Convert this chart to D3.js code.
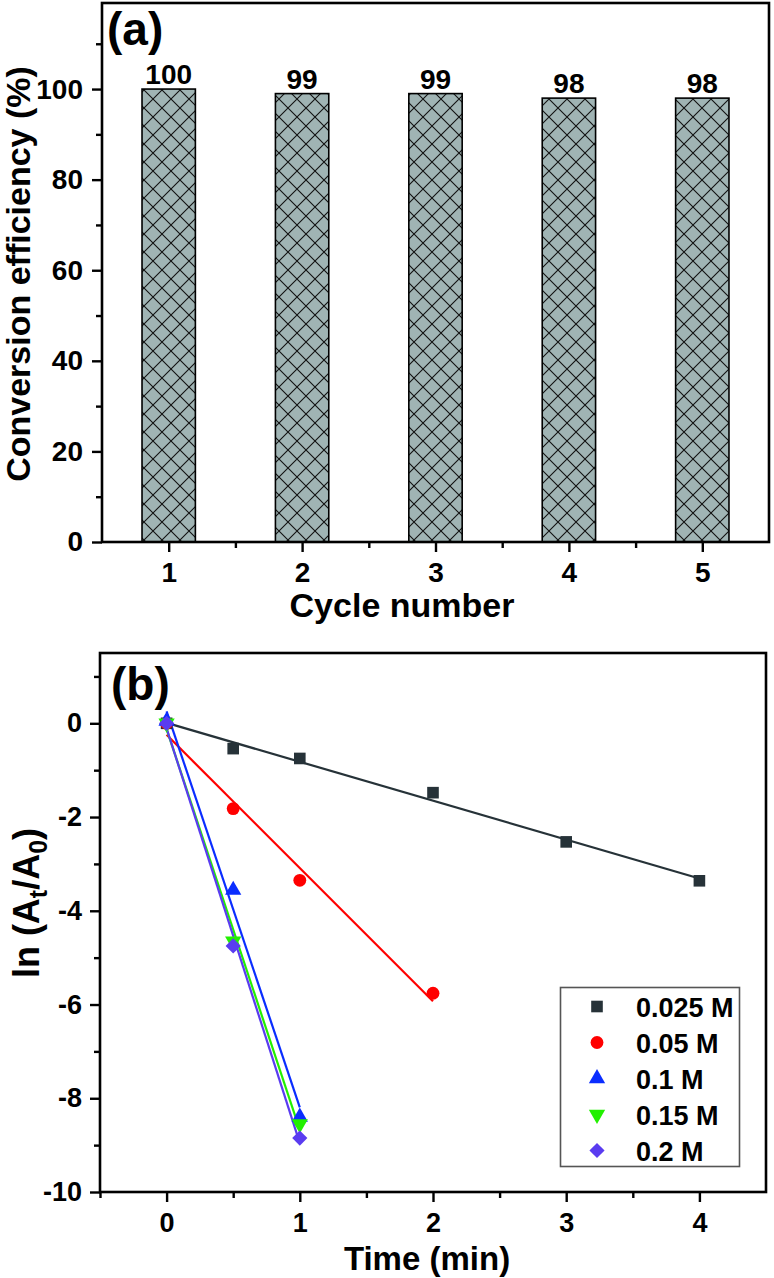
<!DOCTYPE html>
<html><head><meta charset="utf-8">
<script src="https://cdn.jsdelivr.net/npm/d3@7"></script>
<style>
body{margin:0;background:#fff}
svg{display:block}
text{font-family:"Liberation Sans",Arial,sans-serif;font-weight:bold;fill:#000}
</style>
</head><body><svg id="c" width="774" height="1278"></svg>
<script>
// ---- Panel (a) data ----
const cycles = [1, 2, 3, 4, 5];
const efficiency = [100, 99, 99, 98, 98];
const yTicksA = [0, 20, 40, 60, 80, 100];
const yMinorA = [10, 30, 50, 70, 90, 110];
const xMinorA = [1.5, 2.5, 3.5, 4.5];

// ---- Panel (b) data ----
const seriesNames = ["0.025 M", "0.05 M", "0.1 M", "0.15 M", "0.2 M"];
const seriesColors = ["#263238", "#ff0000", "#0a2dff", "#22f000", "#5a3cf0"];
const time025 = [0, 0.5, 1, 2, 3, 4];
const ln025 = [0, -0.54, -0.75, -1.48, -2.53, -3.36];
const time05 = [0, 0.5, 1, 2];
const ln05 = [0, -1.82, -3.35, -5.76];
const time01 = [0, 0.5, 1];
const ln01 = [0.05, -3.56, -8.4];
const time015 = [0, 0.5, 1];
const ln015 = [0, -4.65, -8.55];
const time02 = [0, 0.5, 1];
const ln02 = [0, -4.75, -8.85];
const xTicksB = [0, 1, 2, 3, 4];
const xMinorB = [-0.5, 0.5, 1.5, 2.5, 3.5];
const yTicksB = [-10, -8, -6, -4, -2, 0];
const yMinorB = [-9, -7, -5, -3, -1, 1];

const FONT = '"Liberation Sans",Arial,sans-serif';
const svg = d3.select("#c");
const defs = svg.append("defs");
const pat = defs.append("pattern").attr("id", "hatch")
  .attr("patternUnits", "userSpaceOnUse").attr("width", 18).attr("height", 18);
pat.append("rect").attr("width", 18).attr("height", 18).attr("fill", "#a0b4b4");
pat.append("path").attr("d", "M0,0L18,18M18,0L0,18M-1,17L1,19M17,-1L19,1")
  .attr("stroke", "#111").attr("stroke-width", 1.1);

function frame(g, x0, x1, y0, y1) {
  g.append("rect").attr("x", x0).attr("y", y1).attr("width", x1 - x0).attr("height", y0 - y1)
    .attr("fill", "none").attr("stroke", "#000").attr("stroke-width", 2.6);
}
function styleAxis(g, fs) {
  g.select(".domain").remove();
  g.selectAll("line").attr("stroke-width", 2.4).attr("stroke", "#000");
  g.selectAll("text").attr("font-size", fs).attr("font-family", FONT).attr("font-weight", "bold").attr("fill", "#000");
}

// ================= Panel (a) =================
const xa = d3.scaleLinear().domain([0.5, 5.5]).range([102, 769]);
const ya = d3.scaleLinear().domain([0, 119]).range([542, 3]);
const ga = svg.append("g");
const barW = 0.4;

ga.selectAll("rect.bar").data(cycles).enter().append("rect").attr("class", "bar")
  .attr("x", (d) => xa(d - barW / 2))
  .attr("width", (d) => xa(d + barW / 2) - xa(d - barW / 2))
  .attr("y", (d, i) => ya(efficiency[i]))
  .attr("height", (d, i) => ya(0) - ya(efficiency[i]))
  .attr("fill", "url(#hatch)").attr("stroke", "#000").attr("stroke-width", 1.6);

ga.selectAll("text.val").data(cycles).enter().append("text").attr("class", "val")
  .attr("x", (d) => xa(d)).attr("y", (d, i) => ya(efficiency[i]) - 5)
  .attr("text-anchor", "middle").attr("font-size", 28)
  .text((d, i) => efficiency[i]);

frame(ga, 102, 769, 542, 3);

ga.append("g").attr("transform", "translate(0,542)")
  .call(d3.axisBottom(xa).tickValues(cycles).tickSize(10).tickPadding(10).tickFormat(d3.format("d")))
  .call(g => styleAxis(g, 28));
ga.append("g").attr("transform", "translate(0,542)")
  .call(d3.axisBottom(xa).tickValues(xMinorA).tickSize(6).tickFormat(""))
  .call(g => styleAxis(g, 28));
ga.append("g").attr("transform", "translate(102,0)")
  .call(d3.axisLeft(ya).tickValues(yTicksA).tickSize(10).tickPadding(9).tickFormat(d3.format("d")))
  .call(g => styleAxis(g, 28));
ga.append("g").attr("transform", "translate(102,0)")
  .call(d3.axisLeft(ya).tickValues(yMinorA).tickSize(6).tickFormat(""))
  .call(g => styleAxis(g, 28));

ga.append("text").attr("x", 107).attr("y", 45).attr("font-size", 46).text("(a)");
ga.append("text").attr("x", 402).attr("y", 617).attr("text-anchor", "middle").attr("font-size", 34).text("Cycle number");
ga.append("text").attr("transform", "translate(30,274) rotate(-90)").attr("text-anchor", "middle")
  .attr("font-size", 34).text("Conversion efficiency (%)");

// ================= Panel (b) =================
const xb = d3.scaleLinear().domain([-0.5, 4.5]).range([100, 766]);
const yb = d3.scaleLinear().domain([-10, 1.5]).range([1192, 653]);
const gb = svg.append("g");

const series = [
  { name: seriesNames[0], color: seriesColors[0], xs: time025, ys: ln025, sym: d3.symbolSquare, size: 135, rot: 0 },
  { name: seriesNames[1], color: seriesColors[1], xs: time05, ys: ln05, sym: d3.symbolCircle, size: 130, rot: 0 },
  { name: seriesNames[2], color: seriesColors[2], xs: time01, ys: ln01, sym: d3.symbolTriangle, size: 115, rot: 0 },
  { name: seriesNames[3], color: seriesColors[3], xs: time015, ys: ln015, sym: d3.symbolTriangle, size: 115, rot: 180 },
  { name: seriesNames[4], color: seriesColors[4], xs: time02, ys: ln02, sym: d3.symbolSquare, size: 115, rot: 45 }
];

function fit(xs, ys) {
  const n = xs.length, mx = d3.mean(xs), my = d3.mean(ys);
  let sxy = 0, sxx = 0;
  for (let i = 0; i < n; i++) { sxy += (xs[i] - mx) * (ys[i] - my); sxx += (xs[i] - mx) ** 2; }
  const b = sxy / sxx, a = my - b * mx;
  const x0 = d3.min(xs), x1 = d3.max(xs);
  return [[x0, a + b * x0], [x1, a + b * x1]];
}

const line = d3.line().x(d => xb(d[0])).y(d => yb(d[1]));
series.forEach(s => {
  gb.append("path").attr("d", line(fit(s.xs, s.ys)))
    .attr("fill", "none").attr("stroke", s.color).attr("stroke-width", 2.2);
});
series.forEach(s => {
  gb.append("g").selectAll("path").data(s.xs).enter().append("path")
    .attr("d", d3.symbol().type(s.sym).size(s.size))
    .attr("transform", (d, i) => `translate(${xb(d)},${yb(s.ys[i])}) rotate(${s.rot})`)
    .attr("fill", s.color);
});

frame(gb, 100, 766, 1192, 653);

gb.append("g").attr("transform", "translate(0,1192)")
  .call(d3.axisBottom(xb).tickValues(xTicksB).tickSize(10).tickPadding(11).tickFormat(d3.format("d")))
  .call(g => styleAxis(g, 27));
gb.append("g").attr("transform", "translate(0,1192)")
  .call(d3.axisBottom(xb).tickValues(xMinorB).tickSize(6).tickFormat(""))
  .call(g => styleAxis(g, 27));
gb.append("g").attr("transform", "translate(100,0)")
  .call(d3.axisLeft(yb).tickValues(yTicksB).tickSize(10).tickPadding(8).tickFormat(d => d3.format("d")(d).replace("\u2212", "-")))
  .call(g => styleAxis(g, 27));
gb.append("g").attr("transform", "translate(100,0)")
  .call(d3.axisLeft(yb).tickValues(yMinorB).tickSize(6).tickFormat(""))
  .call(g => styleAxis(g, 27));

gb.append("text").attr("x", 111).attr("y", 700).attr("font-size", 46).text("(b)");
gb.append("text").attr("x", 427).attr("y", 1270).attr("text-anchor", "middle").attr("font-size", 33).text("Time (min)");
const yl = gb.append("text").attr("transform", "translate(39,903) rotate(-90)").attr("text-anchor", "middle").attr("font-size", 36);
yl.append("tspan").text("ln (A");
yl.append("tspan").attr("font-size", 25).attr("dy", 8).text("t");
yl.append("tspan").attr("dy", -8).text("/A");
yl.append("tspan").attr("font-size", 25).attr("dy", 8).text("0");
yl.append("tspan").attr("dy", -8).text(")");

// legend
const lg = gb.append("g");
lg.append("rect").attr("x", 560.5).attr("y", 987.5).attr("width", 179).attr("height", 179)
  .attr("fill", "#fff").attr("stroke", "#555").attr("stroke-width", 1.6);
series.forEach((s, i) => {
  const cy = 1006.5 + i * 36;
  lg.append("path").attr("d", d3.symbol().type(s.sym).size(s.size))
    .attr("transform", `translate(597,${cy}) rotate(${s.rot})`).attr("fill", s.color);
  lg.append("text").attr("x", 636).attr("y", cy + 10).attr("font-size", 27).text(s.name);
});
</script>
</body></html>
